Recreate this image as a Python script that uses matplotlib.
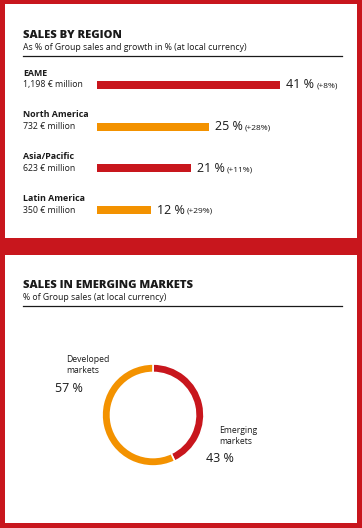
import numpy as np
import matplotlib.pyplot as plt
from matplotlib.patches import Rectangle
import matplotlib.transforms as mtransforms

# data
regions = ['EAME', 'North America', 'Asia/Pacific', 'Latin America']
sales = ['1,198 € million', '732 € million', '623 € million', '350 € million']
share = [41, 25, 21, 12]
growth = ['(+8%)', '(+28%)', '(+11%)', '(+29%)']
market_labels = ['Emerging\nmarkets', 'Developed\nmarkets']
market_share = [43, 57]

RED = '#C8161D'
ORANGE = '#F39200'
TXT = '#1a1a1a'
bar_colors = [RED, ORANGE, RED, ORANGE]

W, H = 362, 528
fig = plt.figure(figsize=(W / 100, H / 100), dpi=100, facecolor=RED)
plt.rcParams['font.family'] = ['Open Sans', 'DejaVu Sans']

bg = fig.add_axes([0, 0, 1, 1])
bg.set_xlim(0, W)
bg.set_ylim(H, 0)
bg.set_axis_off()
bg.add_patch(Rectangle((5, 4), 352, 234, color='white', lw=0))
bg.add_patch(Rectangle((5, 255), 352, 268, color='white', lw=0))


def header(y, title, sub):
    bg.text(23, y, title, fontsize=8.1, fontweight='heavy', color=TXT,
            va='center')
    bg.text(23, y + 13, sub, fontsize=6.3, color=TXT, va='center')
    bg.plot([23, 342], [y + 20.5, y + 20.5], color=TXT, lw=0.9)


header(35, 'SALES BY REGION', 'As % of Group sales and growth in % (at local currency)')
header(285, 'SALES IN EMERGING MARKETS', '% of Group sales (at local currency)')

# bars
px_per_pct = 4.47
bar_top, step = 85, 41.7
ax = fig.add_axes([97 / W, 1 - (bar_top - step / 2 + 4 * step) / H,
                   50 * px_per_pct / W, 4 * step / H])
ax.set_xlim(0, 50)
ax.set_ylim(3.5, -0.5)
ax.set_axis_off()
ypos = np.arange(len(regions))
ax.barh(ypos, share, height=8 / step, color=bar_colors)

tr = mtransforms.blended_transform_factory(bg.transData, ax.transData)
for i in ypos:
    ax.text(23, i - 12 / step, regions[i], transform=tr, fontsize=6.4,
            fontweight='bold', color=TXT, va='center')
    ax.text(23, i, sales[i], transform=tr, fontsize=6.3, color=TXT, va='center')
    big = ax.annotate('%d %%' % share[i], xy=(share[i], i), xytext=(6, 0),
                      textcoords='offset pixels', fontsize=9, color=TXT,
                      va='center', ha='left')
    ax.annotate(growth[i], xy=(1, 0.4), xycoords=big, xytext=(2, 0),
                textcoords='offset pixels', fontsize=6, color=TXT,
                va='center', ha='left')

# donut
cx, cy, r = 153, 415, 51
dax = fig.add_axes([(cx - r) / W, 1 - (cy + r) / H, 2 * r / W, 2 * r / H])
dax.pie(market_share, colors=[RED, ORANGE], startangle=90, counterclock=False,
        wedgeprops=dict(width=8.5 / r, edgecolor='white', linewidth=1.2))
dax.set_xlim(-1, 1)
dax.set_ylim(-1, 1)
dax.set_aspect('equal')

bg.text(219, 436, market_labels[0], fontsize=6.2, color=TXT, va='center',
        linespacing=1.4)
bg.text(206, 459, '%d %%' % market_share[0], fontsize=9, color=TXT, va='center')
bg.text(66, 365, market_labels[1], fontsize=6.2, color=TXT, va='center',
        linespacing=1.4)
bg.text(55, 389, '%d %%' % market_share[1], fontsize=9, color=TXT, va='center')

fig.savefig('out.png', dpi=100, facecolor=RED)
